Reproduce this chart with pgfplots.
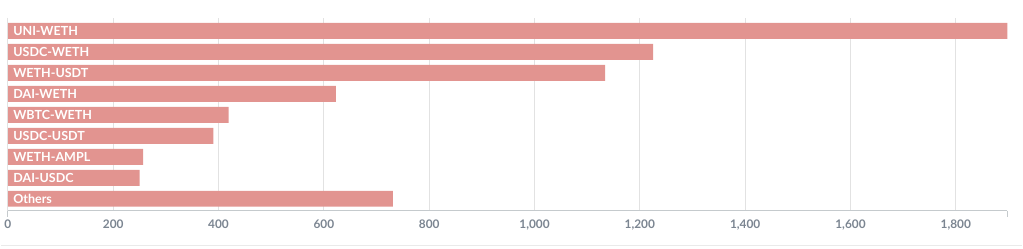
\documentclass[border=0pt]{standalone}
\usepackage{pgfplots}
\pgfplotsset{compat=1.18}
\usepackage{fontspec}
\setmainfont{Lato}
\definecolor{barc}{HTML}{E29490}
\definecolor{gridc}{HTML}{E2E2E2}
\definecolor{axc}{HTML}{C5CACD}
\definecolor{tickc}{HTML}{7B8591}
\definecolor{borderc}{HTML}{EAEAEA}
\begin{document}
\begin{tikzpicture}[x=0.75pt,y=0.75pt]
\begin{axis}[
  at={(0,0)}, anchor=south west,
  scale only axis,
  width=750.75pt, height=144.75pt,
  xbar, bar width=12pt,
  y dir=reverse,
  ymin=-0.62, ymax=8.57,
  xmin=0, xmax=1898,
  xtick={0,200,...,1800},
  ytick=\empty,
  xmajorgrids, grid style={gridc, line width=0.9pt},
  axis x line*=bottom, axis y line*=left,
  x axis line style={axc, line width=0.9pt, -},
  y axis line style={draw=none},
  major tick length=0pt,
  clip=false,
  xticklabel style={font=\bfseries\fontsize{8.9}{10}\selectfont, text=tickc, yshift=-3pt},
  /pgf/number format/.cd, 1000 sep={,}, assume math mode=true,
]
\addplot[fill=barc, draw=none] coordinates {
(1898,0) (1225,1) (1134,2) (623,3) (419,4) (390,5) (257,6) (250,7) (731,8)
};
\draw[gridc, line width=0.9pt] (axis cs:0,-0.62) -- (axis cs:0,8.57);
\draw[axc, line width=0.9pt] (axis cs:0,8.57) -- ++(0pt,-4.5pt);
\draw[axc, line width=0.9pt] (axis cs:1898,8.57) -- ++(0pt,-4.5pt);
\foreach \i/\t in {0/UNI-WETH,1/USDC-WETH,2/WETH-USDT,3/DAI-WETH,4/WBTC-WETH,5/USDC-USDT,6/WETH-AMPL,7/DAI-USDC,8/Others}{
  \edef\tmp{\noexpand\node[anchor=west, inner sep=0pt, text=white, font=\noexpand\bfseries\noexpand\fontsize{9.4}{11}\noexpand\selectfont] at (axis cs:0,\i) [xshift=3.9pt] {\t};}
  \tmp
}
\end{axis}
\draw[borderc, line width=0.9pt] (-7,-35) -- (1016,-35);
\path[use as bounding box] (-7,-38) rectangle (1016,211);
\end{tikzpicture}
\end{document}
